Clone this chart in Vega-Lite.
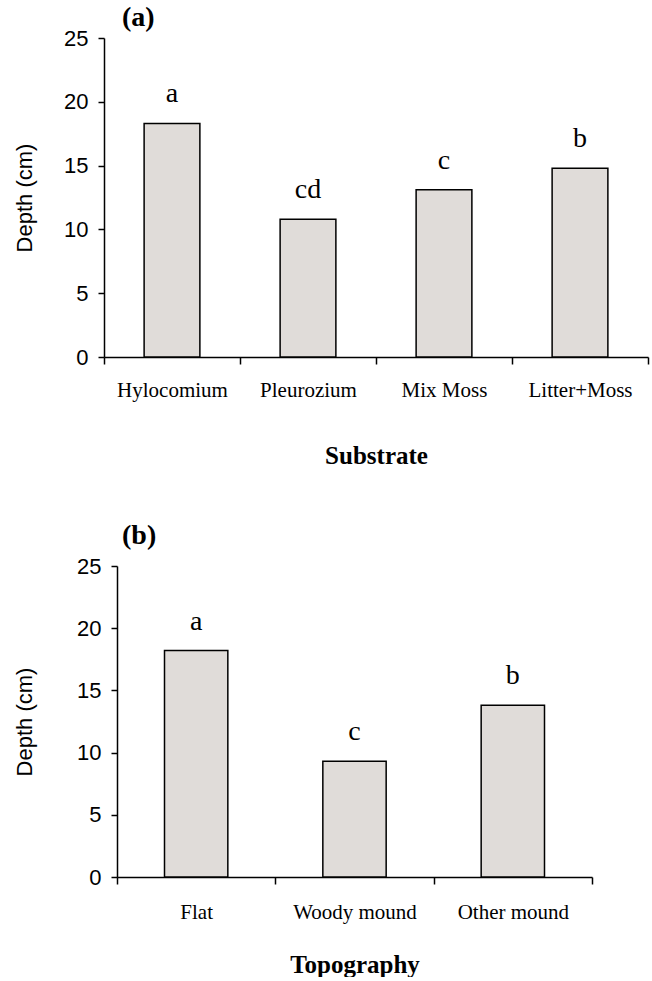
{
  "$schema": "https://vega.github.io/schema/vega-lite/v6.json",
  "padding": {"left": 13, "right": 2, "top": 4, "bottom": 0},
  "background": "white",
  "spacing": 54,
  "config": {
    "view": {"stroke": null},
    "axis": {"domainColor": "black", "tickColor": "black", "domainWidth": 1.5, "tickWidth": 1.5, "labelColor": "black", "titleColor": "black", "grid": false},
    "title": {"color": "black"}
  },
  "vconcat": [
    {
      "width": 544,
      "height": 319,
      "title": {"text": "(a)", "anchor": "start", "frame": "group", "dx": 18, "font": "Liberation Serif", "fontSize": 28, "fontWeight": "bold", "offset": -5},
      "data": {"values": [
        {"substrate": "Hylocomium", "depth": 18.3, "letter": "a"},
        {"substrate": "Pleurozium", "depth": 10.8, "letter": "cd"},
        {"substrate": "Mix Moss", "depth": 13.1, "letter": "c"},
        {"substrate": "Litter+Moss", "depth": 14.8, "letter": "b"}
      ]},
      "encoding": {
        "x": {"field": "substrate", "type": "nominal", "sort": null,
          "scale": {"paddingInner": 0, "paddingOuter": 0},
          "axis": {"labelAngle": 0, "title": "Substrate", "titleFont": "Liberation Serif", "titleFontSize": 25, "titleFontWeight": "bold", "labelFont": "Liberation Serif", "labelFontSize": 21, "tickSize": 7, "labelPadding": 15, "titlePadding": 43, "tickBand": "extent"}},
        "y": {"field": "depth", "type": "quantitative",
          "scale": {"domain": [0, 25]},
          "axis": {"values": [0, 5, 10, 15, 20, 25], "title": "Depth (cm)", "titleFont": "Liberation Sans", "titleFontSize": 22, "titleFontWeight": "normal", "labelFont": "Liberation Sans", "labelFontSize": 22, "tickSize": 6, "labelPadding": 10, "titlePadding": 27}}
      },
      "layer": [
        {"mark": {"type": "bar", "fill": "#E0DCD9", "stroke": "black", "strokeWidth": 1.5, "width": {"band": 0.41}}},
        {"mark": {"type": "text", "font": "Liberation Serif", "fontSize": 28, "baseline": "alphabetic", "dy": -21, "color": "black"}, "encoding": {"text": {"field": "letter"}}}
      ]
    },
    {
      "width": 488,
      "height": 311,
      "title": {"text": "(b)", "anchor": "start", "frame": "group", "dx": 18, "font": "Liberation Serif", "fontSize": 28, "fontWeight": "bold", "offset": 5},
      "data": {"values": [
        {"topography": "Flat", "depth": 18.2, "letter": "a"},
        {"topography": "Woody mound", "depth": 9.3, "letter": "c"},
        {"topography": "Other mound", "depth": 13.8, "letter": "b"}
      ]},
      "encoding": {
        "x": {"field": "topography", "type": "nominal", "sort": null,
          "scale": {"paddingInner": 0, "paddingOuter": 0, "range": [13, 488]},
          "axis": {"labelAngle": 0, "title": "Topography", "titleFont": "Liberation Serif", "titleFontSize": 25, "titleFontWeight": "bold", "labelFont": "Liberation Serif", "labelFontSize": 21, "tickSize": 7, "labelPadding": 17, "titlePadding": 30, "tickBand": "extent"}},
        "y": {"field": "depth", "type": "quantitative",
          "scale": {"domain": [0, 25]},
          "axis": {"values": [0, 5, 10, 15, 20, 25], "offset": -13, "title": "Depth (cm)", "titleFont": "Liberation Sans", "titleFontSize": 22, "titleFontWeight": "normal", "labelFont": "Liberation Sans", "labelFontSize": 22, "tickSize": 6, "labelPadding": 10, "titlePadding": 40}}
      },
      "layer": [
        {"mark": {"type": "bar", "fill": "#E0DCD9", "stroke": "black", "strokeWidth": 1.5, "width": {"band": 0.4}}},
        {"mark": {"type": "text", "font": "Liberation Serif", "fontSize": 28, "baseline": "alphabetic", "dy": -21, "color": "black"}, "encoding": {"text": {"field": "letter"}}}
      ]
    }
  ]
}
